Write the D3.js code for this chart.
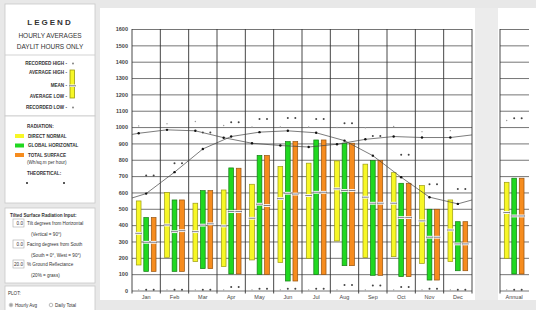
<!DOCTYPE html>
<html>
  <head>
    <style>
      body { margin: 0; background: #e8e8e8; }
      svg { display: block; font-family: "Liberation Sans", Arial, sans-serif; }
      .lg { font-size: 4.6px; font-weight: bold; fill: #333; }
      .tick text { font-size: 5.5px; font-weight: bold; fill: #444; }
    </style>
  </head>
  <body>
    <script src="https://d3js.org/d3.v7.min.js"></script>
    <div id="chart"></div>
    <script>
      // Monthly data (Wh/sq.m per hour)
      var months = ["Jan", "Feb", "Mar", "Apr", "May", "Jun", "Jul", "Aug", "Sep", "Oct", "Nov", "Dec"];
      var yTicks = [0, 100, 200, 300, 400, 500, 600, 700, 800, 900, 1000, 1100, 1200, 1300, 1400, 1500, 1600];

      // direct normal
      var dnHigh = [548, 599, 534, 615, 650, 758, 779, 793, 773, 721, 642, 554];
      var dnLow  = [156, 203, 177, 146, 187, 172, 197, 303, 201, 207, 166, 177];
      var dnMean = [350, 401, 360, 395, 442, 562, 581, 622, 571, 534, 426, 370];
      var dnRecHigh = [1007, 1020, 1034, 1010, 1000, 1000, 1000, 997, 996, 1003, 972, 978];
      var dnRecLow  = [4, 4, 4, 4, 4, 4, 4, 4, 4, 4, 4, 4];
      // global horizontal
      var ghHigh = [446, 554, 611, 750, 826, 911, 921, 901, 795, 656, 497, 421];
      var ghLow  = [117, 117, 134, 101, 99, 58, 97, 152, 93, 85, 64, 121];
      var ghMean = [295, 360, 400, 483, 528, 595, 601, 612, 534, 446, 326, 285];
      var ghRecHigh = [703, 779, 966, 1030, 1050, 1055, 1050, 1024, 945, 831, 650, 621];
      var ghRecLow  = [4, 4, 4, 21, 10, 10, 10, 34, 31, 21, 10, 4];
      // total surface
      var tsHigh = [446, 554, 611, 748, 826, 911, 921, 901, 795, 656, 497, 421];
      var tsLow  = [117, 117, 134, 101, 99, 58, 97, 152, 93, 85, 64, 121];
      var tsMean = [295, 366, 408, 483, 520, 590, 601, 612, 534, 446, 326, 285];
      var tsRecHigh = [703, 779, 966, 1030, 1050, 1055, 1050, 1024, 945, 831, 650, 621];
      var tsRecLow  = [4, 4, 4, 21, 10, 10, 10, 34, 31, 21, 10, 4];

      // annual: [high, low, mean, recHigh, recLow]
      var annualDn = [662, 197, 477, 1040, 4];
      var annualGh = [687, 101, 456, 1054, 4];
      var annualTs = [687, 101, 456, 1054, 4];

      // theoretical curves, value at left edge, each month, right edge
      var theoDn = [955, 962, 983, 977, 935, 901, 887, 878, 895, 925, 942, 936, 936, 952];
      var theoGh = [566, 593, 724, 866, 942, 969, 977, 965, 917, 825, 693, 571, 530, 554];

      var series = ["dn", "gh", "ts"];
      var fills = {dn: "#f7f726", gh: "#20d820", ts: "#f68c1e"};
      var strokes = {dn: "#9a9a10", gh: "#137a13", ts: "#95520e"};

      var W = 536, H = 310;
      var svg = d3.select("#chart").append("svg")
          .attr("width", W).attr("height", H);

      svg.append("rect").attr("width", W).attr("height", H).attr("fill", "#e8e8e8");

      // ---------- legend panel ----------
      var lg = svg.append("g");
      [[5, 4, 90, 112], [5, 116, 90, 87], [5, 208, 90, 75], [5, 286, 90, 30]].forEach(function(b) {
        lg.append("rect").attr("x", b[0]).attr("y", b[1]).attr("width", b[2]).attr("height", b[3])
          .attr("fill", "#fff").attr("stroke", "#c8c8c8").attr("stroke-width", 0.8);
      });
      lg.append("line").attr("x1", 5).attr("x2", 95).attr("y1", 55).attr("y2", 55)
        .attr("stroke", "#c8c8c8").attr("stroke-width", 0.8);

      lg.append("text").attr("x", 50).attr("y", 25).attr("text-anchor", "middle")
        .style("font-size", "8px").style("font-weight", "bold").style("letter-spacing", "2px")
        .attr("fill", "#333").text("LEGEND");
      lg.append("text").attr("x", 50).attr("y", 38).attr("text-anchor", "middle")
        .style("font-size", "6.5px").attr("fill", "#333").text("HOURLY AVERAGES");
      lg.append("text").attr("x", 50).attr("y", 49).attr("text-anchor", "middle")
        .style("font-size", "6.5px").attr("fill", "#333").text("DAYLIT HOURS ONLY");

      var keyRows = [["RECORDED HIGH", 65], ["AVERAGE HIGH", 74], ["MEAN", 87], ["AVERAGE LOW", 98], ["RECORDED LOW", 109]];
      keyRows.forEach(function(r) {
        lg.append("text").attr("class", "lg").attr("x", 67).attr("y", r[1]).attr("text-anchor", "end").text(r[0] + " -");
      });
      lg.append("circle").attr("cx", 73).attr("cy", 63.5).attr("r", 0.9).attr("fill", "#777");
      lg.append("circle").attr("cx", 73).attr("cy", 107.5).attr("r", 0.9).attr("fill", "#777");
      lg.append("rect").attr("x", 70).attr("y", 70).attr("width", 4.5).attr("height", 28)
        .attr("fill", fills.dn).attr("stroke", strokes.dn).attr("stroke-width", 0.8);
      lg.append("rect").attr("x", 69.5).attr("y", 84.5).attr("width", 5.5).attr("height", 2.5).attr("fill", "#fff");
      lg.append("line").attr("x1", 69).attr("x2", 76).attr("y1", 85.8).attr("y2", 85.8).attr("stroke", "#444").attr("stroke-width", 0.7);

      lg.append("text").attr("class", "lg").attr("x", 27).attr("y", 128).text("RADIATION:");
      [["DIRECT NORMAL", "dn", 134], ["GLOBAL HORIZONTAL", "gh", 143.5], ["TOTAL SURFACE", "ts", 153]].forEach(function(r) {
        lg.append("rect").attr("x", 15).attr("y", r[2]).attr("width", 9).attr("height", 4).attr("fill", fills[r[1]]);
        lg.append("text").attr("class", "lg").attr("x", 28).attr("y", r[2] + 3.8).text(r[0]);
      });
      lg.append("text").attr("class", "lg").attr("x", 27).attr("y", 164).style("font-weight", "normal").text("(Wh/sq.m per hour)");
      lg.append("text").attr("class", "lg").attr("x", 27).attr("y", 175).text("THEORETICAL:");
      lg.append("circle").attr("cx", 27).attr("cy", 183).attr("r", 1).attr("fill", "#222");
      lg.append("circle").attr("cx", 64).attr("cy", 183).attr("r", 1).attr("fill", "#222");

      lg.append("text").attr("class", "lg").attr("x", 10).attr("y", 217).text("Tilted Surface Radiation Input:");
      [["0.0", "Tilt degrees from Horizontal", "(Vertical = 90\u00b0)", 219],
       ["0.0", "Facing degrees from South", "(South = 0\u00b0, West = 90\u00b0)", 240],
       ["20.0", "% Ground Reflectance", "(20% = grass)", 260]].forEach(function(r) {
        lg.append("rect").attr("x", 13).attr("y", r[3]).attr("width", 11).attr("height", 8)
          .attr("fill", "#fff").attr("stroke", "#aaa").attr("stroke-width", 0.6);
        lg.append("text").attr("class", "lg").attr("x", 23).attr("y", r[3] + 6).attr("text-anchor", "end")
          .style("font-weight", "normal").text(r[0]);
        lg.append("text").attr("class", "lg").attr("x", 27).attr("y", r[3] + 6).style("font-weight", "normal").text(r[1]);
        lg.append("text").attr("class", "lg").attr("x", 31).attr("y", r[3] + 17).style("font-weight", "normal").text(r[2]);
      });
      lg.append("text").attr("class", "lg").attr("x", 8).attr("y", 295).style("font-weight", "normal").text("PLOT:");
      lg.append("circle").attr("cx", 11).attr("cy", 305).attr("r", 1.8).attr("fill", "#fff").attr("stroke", "#777").attr("stroke-width", 0.5);
      lg.append("circle").attr("cx", 11).attr("cy", 305).attr("r", 0.8).attr("fill", "#333");
      lg.append("text").attr("class", "lg").attr("x", 15).attr("y", 306.5).style("font-weight", "normal").text("Hourly Avg");
      lg.append("circle").attr("cx", 51).attr("cy", 305).attr("r", 1.8).attr("fill", "#fff").attr("stroke", "#777").attr("stroke-width", 0.5);
      lg.append("text").attr("class", "lg").attr("x", 55).attr("y", 306.5).style("font-weight", "normal").text("Daily Total");

      // ---------- chart panel ----------
      svg.append("rect").attr("x", 100).attr("y", 8).attr("width", 436).attr("height", 292).attr("fill", "#fff");
      svg.append("rect").attr("x", 475).attr("y", 8).attr("width", 23).attr("height", 292).attr("fill", "#ececec");

      var x = d3.scaleBand().domain(months).range([132, 472]);
      var xa = d3.scaleBand().domain(["Annual"]).range([500, 528.3]);
      var sub = d3.scaleBand().domain(series).range([0, x.bandwidth()])
                  .paddingInner(0.37).paddingOuter(0.575);
      var y = d3.scaleLinear().domain([0, 1600]).range([290.5, 29]);

      // horizontal grid + y labels
      svg.append("g")
          .attr("transform", "translate(132,0)")
          .call(d3.axisLeft(y).tickValues(yTicks).tickSize(-340).tickPadding(4).tickFormat(d3.format("d")))
          .call(function(g) {
            g.select(".domain").remove();
            g.selectAll(".tick line").attr("stroke", "#666").attr("stroke-width", 0.9);
          });
      svg.append("g")
          .attr("transform", "translate(500,0)")
          .call(d3.axisLeft(y).tickValues(yTicks).tickSize(-29).tickFormat(""))
          .call(function(g) {
            g.select(".domain").remove();
            g.selectAll(".tick line").attr("stroke", "#666").attr("stroke-width", 0.9);
          });

      // month separators
      var bounds = months.map(function(m) { return x(m); }).concat([x.range()[1]]);
      svg.append("g").selectAll("line").data(bounds).join("line")
          .attr("x1", function(d) { return d; }).attr("x2", function(d) { return d; })
          .attr("y1", y(1600)).attr("y2", y(0) + 3)
          .attr("stroke", "#333").attr("stroke-width", 0.9);
      svg.append("line").attr("x1", 500).attr("x2", 500).attr("y1", y(1600)).attr("y2", y(0) + 3)
          .attr("stroke", "#333").attr("stroke-width", 0.9);

      // x labels
      svg.append("g")
          .attr("transform", "translate(0," + y(0) + ")")
          .call(d3.axisBottom(x).tickSize(0).tickPadding(5))
          .call(function(g) { g.select(".domain").remove(); g.selectAll("text").style("font-size", "5.5px").style("font-weight", "normal").attr("fill", "#333"); });
      svg.append("g")
          .attr("transform", "translate(0," + y(0) + ")")
          .call(d3.axisBottom(xa).tickSize(0).tickPadding(5))
          .call(function(g) { g.select(".domain").remove(); g.selectAll("text").style("font-size", "5.5px").style("font-weight", "normal").attr("fill", "#333"); });

      // build bar rows
      var cols = {
        dn: [dnHigh, dnLow, dnMean, dnRecHigh, dnRecLow],
        gh: [ghHigh, ghLow, ghMean, ghRecHigh, ghRecLow],
        ts: [tsHigh, tsLow, tsMean, tsRecHigh, tsRecLow]
      };
      var annual = {dn: annualDn, gh: annualGh, ts: annualTs};
      var rows = [];
      months.forEach(function(m, i) {
        series.forEach(function(s) {
          var c = cols[s];
          rows.push({x0: x(m), key: s, high: c[0][i], low: c[1][i], mean: c[2][i], rh: c[3][i], rl: c[4][i]});
        });
      });
      series.forEach(function(s) {
        var a = annual[s];
        rows.push({x0: xa("Annual"), key: s, high: a[0], low: a[1], mean: a[2], rh: a[3], rl: a[4]});
      });

      var bw = sub.bandwidth();
      var bars = svg.append("g");
      bars.selectAll("rect.bar").data(rows).join("rect")
          .attr("class", "bar")
          .attr("x", function(d) { return d.x0 + sub(d.key); })
          .attr("width", bw)
          .attr("y", function(d) { return y(d.high); })
          .attr("height", function(d) { return y(d.low) - y(d.high); })
          .attr("fill", function(d) { return fills[d.key]; })
          .attr("stroke", function(d) { return strokes[d.key]; })
          .attr("stroke-width", 0.7);
      // mean marks
      bars.selectAll("rect.gap").data(rows).join("rect")
          .attr("class", "gap")
          .attr("x", function(d) { return d.x0 + sub(d.key) - 0.5; })
          .attr("width", bw + 1)
          .attr("y", function(d) { return y(d.mean) - 1.4; })
          .attr("height", 2.8)
          .attr("fill", "#fff");
      bars.selectAll("line.mean").data(rows).join("line")
          .attr("class", "mean")
          .attr("x1", function(d) { return d.x0 + sub(d.key) - 1; })
          .attr("x2", function(d) { return d.x0 + sub(d.key) + bw + 1; })
          .attr("y1", function(d) { return y(d.mean); })
          .attr("y2", function(d) { return y(d.mean); })
          .attr("stroke", "#4a4a5a").attr("stroke-width", 0.7);
      // recorded high / low markers
      ["rh", "rl"].forEach(function(k) {
        bars.selectAll("circle." + k).data(rows).join("circle")
            .attr("class", k)
            .attr("cx", function(d) { return d.x0 + sub(d.key) + bw / 2; })
            .attr("cy", function(d) { return y(d[k]); })
            .attr("r", function(d) { return d.key === "dn" ? 0.7 : 1; })
            .attr("fill", function(d) { return d.key === "dn" ? "#999" : "#444"; });
      });

      // theoretical curves
      function theoPoints(vals, key) {
        var pts = [[x.range()[0], vals[0]]];
        months.forEach(function(m, i) { pts.push([x(m) + sub(key) + bw / 2, vals[i + 1]]); });
        pts.push([x.range()[1], vals[vals.length - 1]]);
        return pts;
      }
      var line = d3.line().x(function(d) { return d[0]; }).y(function(d) { return y(d[1]); });
      [["dn", theoDn], ["gh", theoGh]].forEach(function(t) {
        var pts = theoPoints(t[1], t[0]);
        svg.append("path").attr("d", line(pts)).attr("fill", "none")
           .attr("stroke", "#444").attr("stroke-width", 0.7);
        svg.append("g").selectAll("circle").data(pts.slice(1, -1)).join("circle")
           .attr("cx", function(d) { return d[0]; })
           .attr("cy", function(d) { return y(d[1]); })
           .attr("r", 1.2).attr("fill", "#111");
      });
    </script>
  </body>
</html>
